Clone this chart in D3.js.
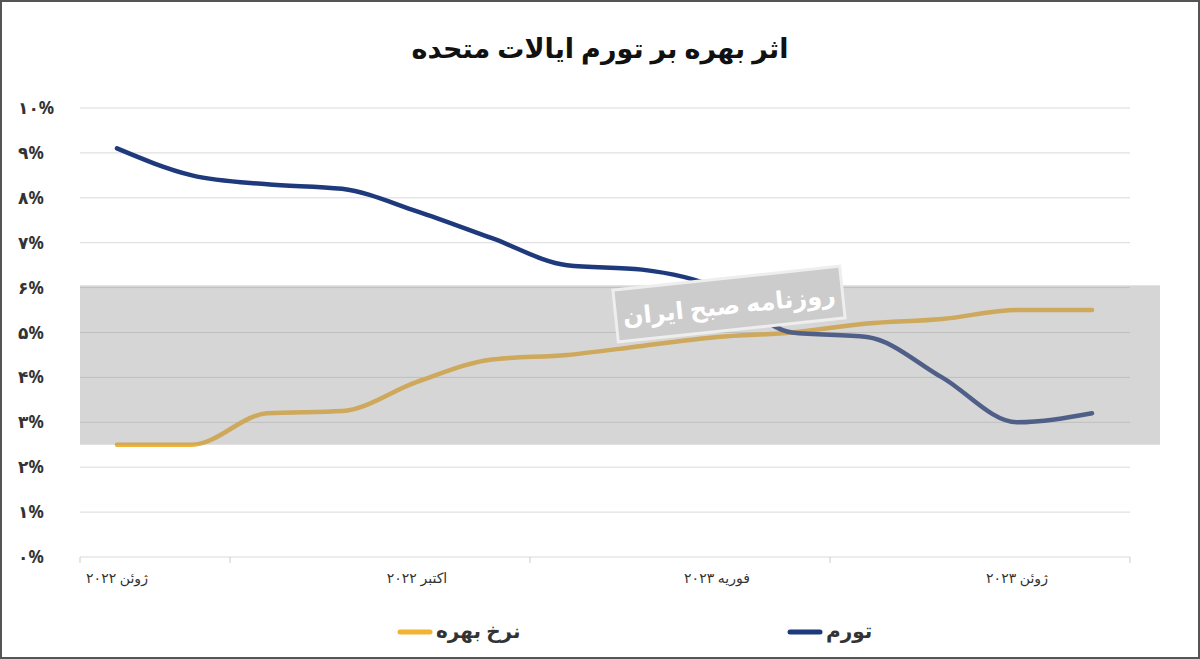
<!DOCTYPE html>
<html><head><meta charset="utf-8">
<script src="https://cdn.jsdelivr.net/npm/d3@7"></script>
<style>body{margin:0;background:#fff;font-family:"Noto Sans","DejaVu Sans",sans-serif}</style>
</head><body><svg id="c" width="1200" height="659"></svg>
<script>
const months = ["2022-06","2022-07","2022-08","2022-09","2022-10","2022-11","2022-12","2023-01","2023-02","2023-03","2023-04","2023-05","2023-06","2023-07"];
const inflation = [9.1,8.5,8.3,8.2,7.7,7.1,6.5,6.4,6.0,5.0,4.9,4.0,3.0,3.2];
const rate = [2.5,2.5,3.2,3.25,3.9,4.4,4.5,4.7,4.9,5.0,5.2,5.3,5.5,5.5];
const yTicks = [0,1,2,3,4,5,6,7,8,9,10];
const xLabels = [["2022-06","ژوئن ۲۰۲۲"],["2022-10","اکتبر ۲۰۲۲"],["2023-02","فوریه ۲۰۲۳"],["2023-06","ژوئن ۲۰۲۳"]];
const fa = n => String(n).replace(/\d/g,d=>"۰۱۲۳۴۵۶۷۸۹"[d]);

const svg = d3.select("#c");
svg.append("rect").attr("x",1).attr("y",1).attr("width",1198).attr("height",657).attr("fill","#fff").attr("stroke","#555").attr("stroke-width",2);
svg.append("text").attr("x",600).attr("y",58).attr("text-anchor","middle").attr("font-size",27).attr("font-weight","bold").attr("fill","#111").text("اثر بهره بر تورم ایالات متحده");

const x = d3.scalePoint().domain(months).range([117,1092]);
const y = d3.scaleLinear().domain([0,10]).range([557,108]);

svg.append("g").selectAll("line").data(yTicks).join("line")
 .attr("x1",80).attr("x2",1130).attr("y1",d=>y(d)).attr("y2",d=>y(d)).attr("stroke","#d9d9d9");
svg.append("g").selectAll("text").data(yTicks).join("text")
 .attr("x",18).attr("y",d=>y(d)+6).attr("font-size",17).attr("font-weight","bold").attr("fill","#333").text(d=>fa(d)+"%");

const tickX = [80,230,530,830,1130];
svg.append("g").selectAll("line").data(tickX).join("line").attr("x1",d=>d).attr("x2",d=>d).attr("y1",557).attr("y2",563).attr("stroke","#ccc");
svg.append("g").selectAll("text").data(xLabels).join("text")
 .attr("x",d=>x(d[0])).attr("y",583).attr("text-anchor","middle").attr("font-size",14).attr("fill","#333").text(d=>d[1]);

const line = d3.line().x((d,i)=>x(months[i])).y(d=>y(d)).curve(d3.curveMonotoneX);
svg.append("path").attr("d",line(rate)).attr("fill","none").attr("stroke","#F2B233").attr("stroke-width",4.5).attr("stroke-linecap","round");
svg.append("path").attr("d",line(inflation)).attr("fill","none").attr("stroke","#1F3A7C").attr("stroke-width",4.5).attr("stroke-linecap","round");

// watermark band over the lines (semi-transparent)
svg.append("rect").attr("x",80).attr("y",y(6.05)).attr("width",1080).attr("height",y(2.5)-y(6.05)).attr("fill","#999").attr("opacity",0.4);
svg.append("rect").attr("x",615).attr("y",278).attr("width",228).attr("height",52).attr("fill","#ccc").attr("stroke","#eee").attr("stroke-width",3).attr("transform","rotate(-6 729 304)");
svg.append("text").attr("x",729).attr("y",314).attr("text-anchor","middle").attr("font-size",24).attr("font-weight","bold").attr("fill","#fff").attr("transform","rotate(-6 729 304)").text("روزنامه صبح ایران");

const leg = [["نرخ بهره","#F2B233",440],["تورم","#1F3A7C",830]];
leg.forEach(([t,c,cx])=>{
 svg.append("line").attr("x1",cx-40).attr("x2",cx-10).attr("y1",632).attr("y2",632).attr("stroke",c).attr("stroke-width",5).attr("stroke-linecap","round");
 svg.append("text").attr("x",cx-4).attr("y",638).attr("font-size",20).attr("font-weight","bold").attr("fill","#333").attr("text-anchor","start").attr("direction","ltr").text(t);
});
</script></body></html>
